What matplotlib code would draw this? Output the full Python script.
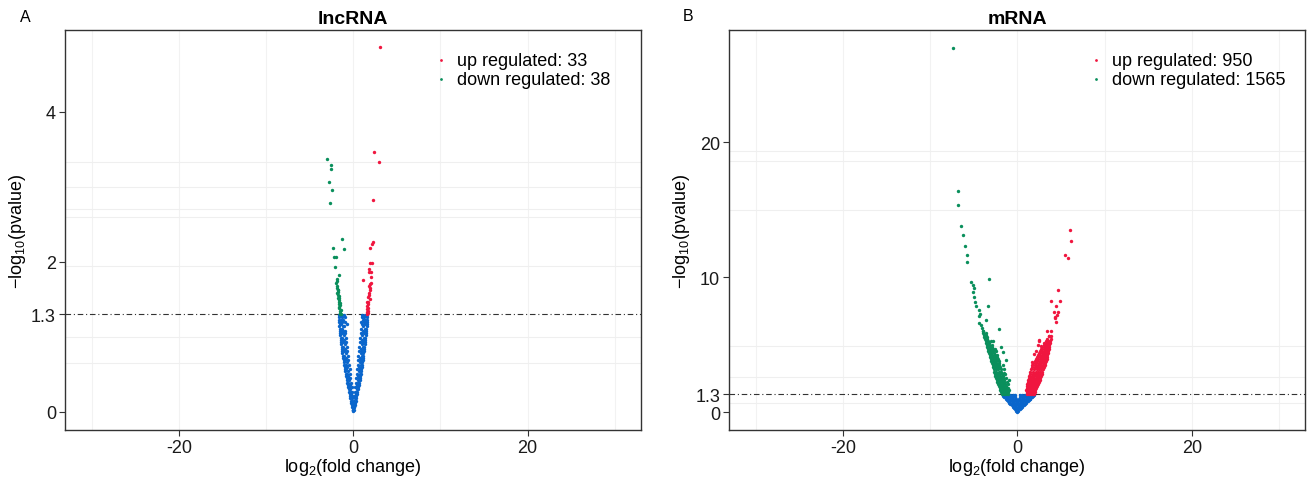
import matplotlib
matplotlib.use("Agg")
import matplotlib.pyplot as plt
import numpy as np

plt.rcParams['font.family'] = ['Liberation Sans', 'DejaVu Sans']
plt.rcParams['mathtext.fontset'] = 'custom'
plt.rcParams['mathtext.rm'] = 'Liberation Sans'

# ---------------- data ----------------
RED = '#F0163F'
GREEN = '#0A8F5C'
BLUE = '#0A66CC'

x_ticks = [-20, 0, 20]
lnc_yticks = [0, 1.3, 2, 4]
mrna_yticks = [0, 1.3, 10, 20]
x_grid = [-30, -20, -10, 0, 10, 20, 30]
lnc_grid_y = [0.65, 1.0, 1.95, 2.6, 2.7, 3.0, 3.33]
mrna_grid_y = [0.65, 2.6, 4.9, 15.0, 18.6, 19.3]
threshold = 1.3

lnc_up = [(3.09, 4.86), (2.37, 3.46), (2.90, 3.33), (2.26, 2.82), (2.26, 2.27),
          (2.14, 2.24), (1.95, 2.18), (1.91, 1.99), (2.14, 1.98), (1.83, 1.90),
          (2.03, 1.87), (1.83, 1.86), (1.11, 1.76), (2.06, 1.72), (1.87, 1.65),
          (1.95, 1.62), (1.83, 1.59), (1.68, 1.53), (1.87, 1.50), (1.57, 1.47),
          (1.68, 1.44), (1.64, 1.38), (1.68, 1.35), (1.60, 1.33), (1.56, 1.37),
          (1.75, 1.56), (1.62, 1.41), (1.78, 1.68), (2.0, 1.80), (1.72, 1.32),
          (1.58, 1.31), (1.66, 1.46), (1.90, 1.70)]

lnc_down = [(-2.98, 3.37), (-2.52, 3.29), (-2.52, 3.24), (-2.79, 3.07), (-2.49, 2.96),
            (-2.67, 2.79), (-1.34, 2.31), (-2.33, 2.18), (-1.11, 2.17), (-2.26, 2.07),
            (-1.98, 2.06), (-2.14, 1.93), (-1.68, 1.83), (-1.87, 1.77), (-1.95, 1.72),
            (-1.83, 1.68), (-1.87, 1.65), (-1.72, 1.62), (-1.87, 1.58), (-1.64, 1.55),
            (-1.79, 1.52), (-1.60, 1.49), (-1.68, 1.44), (-1.49, 1.42), (-1.60, 1.38),
            (-1.41, 1.36), (-1.56, 1.31), (-1.52, 1.34), (-1.75, 1.60), (-1.66, 1.47),
            (-1.90, 1.75), (-1.58, 1.40), (-1.48, 1.32), (-1.70, 1.56), (-1.62, 1.52),
            (-1.80, 1.62), (-1.44, 1.30), (-1.55, 1.45)]

lnc_ns_rows = {
    1.29: [-1.62, -1.45, -1.1, 1.6, 1.4, 1.05],
    1.26: [-1.66, -1.3, -0.98, 1.62, 1.25, 0.95],
    1.23: [-1.58, -1.4, -1.15, 1.55, 1.35, 1.1],
    1.20: [-1.63, -1.25, -0.95, 1.58, 1.2, 0.92],
    1.17: [-1.55, -1.38, -0.72, 1.52, 1.4, 1.0],
    1.14: [-1.6, -1.2, -1.02, 1.54, 1.15],
    1.11: [-1.52, -1.33, 1.48, 1.3, 0.9],
    1.08: [-1.56, -1.15, -0.92, 1.5, 1.1],
    1.05: [-1.48, -1.3, -0.9, 1.44, 1.25, 0.85],
    1.02: [-1.5, -1.1, 1.42, 1.05],
    0.99: [-1.44, -1.25, -0.85, 1.38, 1.2, 0.82],
    0.96: [-1.46, -1.05, 1.36, 1.0],
    0.93: [-1.38, -1.2, -0.8, 1.32, 1.15, 0.76],
    0.90: [-1.4, -0.98, 1.3, 0.95],
    0.87: [-1.32, -1.15, -0.75, 1.26, 1.1, 0.7],
    0.84: [-1.34, -0.92, 1.24, 0.9],
    0.81: [-1.26, -1.08, -0.68, 1.2, 1.04, 0.66],
    0.78: [-1.24, -0.88, 1.16, 0.85],
    0.75: [-1.18, -1.02, -0.62, 1.12, 0.98, 0.6],
    0.72: [-1.16, -0.82, 1.1, 0.8],
    0.69: [-1.1, -0.95, -0.56, 1.06, 0.92, 0.55],
    0.66: [-1.08, -0.76, 1.02, 0.74],
    0.63: [-1.02, -0.88, -0.48, 0.98, 0.86, 0.5],
    0.60: [-0.98, -0.7, 0.96, 0.68],
    0.57: [-0.94, -0.8, -0.42, 0.92, 0.8, 0.44],
    0.54: [-0.9, -0.62, 0.88, 0.62],
    0.51: [-0.85, -0.72, -0.38, 0.84, 0.72, 0.4],
    0.48: [-0.82, -0.56, 0.8, 0.56],
    0.45: [-0.76, -0.64, -0.32, 0.76, 0.64, 0.34],
    0.42: [-0.72, -0.5, 0.72, 0.5],
    0.39: [-0.68, -0.56, -0.26, 0.68, 0.56, 0.28],
    0.36: [-0.62, -0.42, 0.63, 0.44],
    0.33: [-0.58, -0.48, -0.2, 0.58, 0.48, 0.22],
    0.30: [-0.53, -0.36, 0.53, 0.38],
    0.27: [-0.48, -0.3, -0.16, 0.47, 0.32, 0.17],
    0.24: [-0.43, -0.28, 0.42, 0.27],
    0.21: [-0.38, -0.24, -0.1, 0.36, 0.22, 0.1],
    0.18: [-0.33, -0.2, 0.31, 0.18],
    0.15: [-0.28, -0.14, 0.26, 0.12],
    0.12: [-0.22, -0.1, 0.2, 0.09],
    0.09: [-0.16, -0.07, 0.15, 0.06],
    0.06: [-0.11, -0.04, 0.1, 0.04],
    0.03: [-0.05, -0.02, 0.05, 0.02],
    0.01: [0.0],
}

mrna_up_rows = {
    1.35: [1.05, 1.3, 1.55, 1.8, 1.95],
    1.5: [1.05, 1.3, 1.55, 1.82, 2.02],
    1.65: [1.02, 1.25, 1.5, 1.75, 2.05],
    1.8: [1.1, 1.35, 1.6, 1.85, 2.12],
    1.95: [1.08, 1.3, 1.55, 1.8, 2.05, 2.25],
    2.1: [1.15, 1.4, 1.65, 1.9, 2.15, 2.35],
    2.25: [1.2, 1.45, 1.7, 1.95, 2.2, 2.45],
    2.4: [1.25, 1.5, 1.78, 2.05, 2.3, 2.55],
    2.55: [1.3, 1.6, 1.85, 2.1, 2.4, 2.62],
    2.7: [1.38, 1.65, 1.92, 2.2, 2.48, 2.7],
    2.85: [1.45, 1.75, 2.0, 2.3, 2.55, 2.78],
    3.0: [1.5, 1.8, 2.1, 2.38, 2.62, 2.88],
    3.15: [1.58, 1.9, 2.2, 2.45, 2.72, 2.95],
    3.3: [1.65, 2.0, 2.3, 2.55, 2.8, 3.05],
    3.45: [1.7, 2.05, 2.35, 2.62, 2.9, 3.15],
    3.6: [1.85, 2.15, 2.45, 2.72, 3.0, 3.22],
    3.75: [2.0, 2.3, 2.55, 2.82, 3.1, 3.28],
    3.9: [2.1, 2.4, 2.68, 2.95, 3.2, 3.35],
    4.05: [2.25, 2.55, 2.8, 3.05, 3.3, 3.42],
    4.2: [2.35, 2.65, 2.9, 3.15, 3.4],
    4.35: [2.5, 2.78, 3.02, 3.25, 3.48],
    4.5: [2.55, 2.88, 3.12, 3.35, 3.52],
    4.65: [2.7, 3.0, 3.25, 3.45, 3.58],
    4.8: [2.85, 3.15, 3.38, 3.62],
    4.95: [3.0, 3.3, 3.5, 3.68],
    5.1: [3.1, 3.45, 3.72],
    5.25: [3.3, 3.55, 3.78],
    5.4: [3.45, 3.82],
    5.6: [3.6, 3.88],
}
mrna_up_extra = [(2.33, 4.96), (2.44, 5.36), (3.67, 5.65), (3.40, 6.02), (3.90, 6.02),
                 (4.39, 6.64), (4.28, 7.01), (4.35, 6.96), (4.50, 7.21), (4.20, 7.41),
                 (4.66, 7.41), (4.47, 7.83), (3.82, 8.20), (4.85, 8.22), (4.70, 9.06),
                 (5.47, 11.60), (5.81, 11.41), (6.04, 13.48), (6.11, 12.64),
                 (2.52, 5.28), (2.70, 4.90), (1.95, 4.30), (1.70, 3.70), (2.10, 4.55)]

mrna_down_rows = {
    1.35: [-1.78, -1.55, -1.3, -1.05],
    1.5: [-1.85, -1.6, -1.35, -1.1],
    1.65: [-1.95, -1.7, -1.45, -1.2, -1.0],
    1.8: [-2.02, -1.78, -1.5, -1.25, -1.05],
    1.95: [-2.1, -1.85, -1.6, -1.3],
    2.1: [-2.2, -1.95, -1.7, -1.42, -1.1],
    2.25: [-2.28, -2.0, -1.75, -1.5, -1.2],
    2.4: [-2.38, -2.1, -1.85, -1.55, -1.0],
    2.55: [-2.45, -2.2, -1.92, -1.65, -1.3],
    2.7: [-2.52, -2.25, -2.0, -1.7],
    2.85: [-2.6, -2.35, -2.05, -1.8, -1.45],
    3.0: [-2.65, -2.4, -2.15, -1.85],
    3.15: [-2.72, -2.48, -2.2, -1.9, -1.55],
    3.3: [-2.8, -2.55, -2.25, -2.0],
    3.45: [-2.85, -2.6, -2.35, -2.05, -1.7],
    3.6: [-2.92, -2.68, -2.4, -2.1],
    3.75: [-3.0, -2.72, -2.45, -2.15],
    3.9: [-3.05, -2.8, -2.5, -2.25],
    4.05: [-3.12, -2.85, -2.55, -2.3],
    4.2: [-3.18, -2.92, -2.62, -2.35],
    4.35: [-3.25, -2.98, -2.7],
    4.5: [-3.32, -3.05, -2.75, -2.4],
    4.65: [-3.38, -3.1, -2.82],
    4.8: [-3.45, -3.18, -2.9],
    4.95: [-3.5, -3.22, -2.95],
    5.1: [-3.58, -3.3],
    5.25: [-3.65, -3.38, -3.05],
    5.4: [-3.72, -3.45],
    5.55: [-3.8, -3.5],
    5.7: [-3.86, -3.58],
    5.85: [-3.92, -3.65],
    6.0: [-3.98],
    6.2: [-4.05],
}
mrna_down_extra = [(-1.30, 3.85), (-1.68, 4.42), (-1.87, 4.79), (-2.60, 4.70), (-2.79, 5.28),
                   (-2.14, 6.15), (-3.59, 6.81), (-3.32, 7.85), (-3.25, 9.85), (-1.50, 2.90),
                   (-4.16, 6.47), (-4.43, 6.60), (-3.98, 6.02), (-4.43, 7.09), (-4.24, 7.26),
                   (-4.36, 7.56), (-4.73, 7.83), (-4.81, 8.12), (-4.93, 8.50), (-5.08, 8.87),
                   (-5.00, 9.16), (-5.04, 9.41), (-5.31, 9.65), (-5.73, 11.13), (-5.81, 11.65),
                   (-6.04, 12.32), (-6.23, 13.11), (-6.50, 13.78), (-6.76, 15.36),
                   (-6.84, 16.35), (-7.34, 27.00)]

mrna_ns_rows = {
    1.25: [-1.68, -1.4, -1.1, -0.8, -0.5, -0.25, 0.3, 0.55, 0.85, 1.15, 1.45, 1.75, 1.87],
    1.18: [-1.6, -1.3, -1.0, -0.7, -0.4, 0.45, 0.75, 1.05, 1.35, 1.65, 1.8],
    1.1: [-1.48, -1.2, -0.9, -0.6, -0.3, 0.35, 0.65, 0.95, 1.25, 1.55, 1.65],
    1.0: [-1.35, -1.05, -0.75, -0.45, -0.2, 0.2, 0.5, 0.8, 1.1, 1.4, 1.5],
    0.9: [-1.2, -0.9, -0.6, -0.3, -0.05, 0.1, 0.4, 0.7, 1.0, 1.3],
    0.8: [-1.08, -0.8, -0.5, -0.2, 0.1, 0.4, 0.7, 1.0, 1.18],
    0.7: [-0.94, -0.65, -0.35, -0.05, 0.25, 0.55, 0.85, 1.03],
    0.6: [-0.8, -0.5, -0.2, 0.1, 0.4, 0.7, 0.88],
    0.5: [-0.67, -0.38, -0.1, 0.2, 0.5, 0.73],
    0.4: [-0.53, -0.25, 0.05, 0.3, 0.58],
    0.3: [-0.4, -0.12, 0.15, 0.43],
    0.2: [-0.26, 0.0, 0.27],
    0.1: [-0.12, 0.12],
    0.03: [0.0],
}

lnc_counts = (33, 38)
mrna_counts = (950, 1565)


def rows_to_xy(rows, extra=()):
    xs, ys = [], []
    for yv, xl in rows.items():
        for xv in xl:
            xs.append(xv)
            ys.append(yv)
    for xv, yv in extra:
        xs.append(xv)
        ys.append(yv)
    return np.array(xs), np.array(ys)


def pairs(p):
    a = np.array(p)
    return a[:, 0], a[:, 1]


# ---------------- figure ----------------
fig = plt.figure(figsize=(13.07, 4.81), dpi=100)
ax1 = fig.add_axes([0.0497, 0.1040, 0.4407, 0.8316])
ax2 = fig.add_axes([0.5578, 0.1040, 0.4407, 0.8316])

S = 6


def style(ax, title, yticks, ylim, grid_y, legend_x, counts):
    ax.set_xlim(-33.07, 33.0)
    ax.set_ylim(*ylim)
    for gx in x_grid:
        ax.axvline(gx, color='#F2F2F2', lw=0.8, zorder=0)
    for gy in grid_y:
        ax.axhline(gy, color='#EFEFEF', lw=0.8, zorder=0)
    ax.axhline(threshold, color='#333333', lw=0.8, ls=(0, (5, 2.5, 1, 2.5)), zorder=1)
    ax.set_xticks(x_ticks)
    ax.set_xticklabels([str(v) for v in x_ticks])
    ax.set_yticks(yticks)
    ax.set_yticklabels([('%g' % v) for v in yticks])
    ax.tick_params(direction='out', length=4, width=0.8, colors='#333333',
                   labelcolor='#1a1a1a', labelsize=13, pad=2.5)
    for sp in ax.spines.values():
        sp.set_color('#333333')
        sp.set_linewidth(1.0)
    ax.set_title(title, fontsize=14, fontweight='bold', pad=5)
    ax.set_xlabel(r'$\mathregular{log_2}$(fold change)', fontsize=13)
    ax.set_ylabel(r'$\mathregular{-log_{10}}$(pvalue)', fontsize=13)
    ax.xaxis.set_label_coords(0.5, -0.064)
    ax.yaxis.set_label_coords(-0.064, 0.5)
    hu = ax.scatter([], [], s=4, color=RED, linewidths=0)
    hd = ax.scatter([], [], s=4, color=GREEN, linewidths=0)
    ax.legend([hu, hd], ['up regulated: %d' % counts[0], 'down regulated: %d' % counts[1]],
              loc='upper left', bbox_to_anchor=(legend_x, 0.945), frameon=False,
              fontsize=13, handlelength=1.0, handletextpad=0.35, borderpad=0,
              borderaxespad=0, labelspacing=0.12, scatterpoints=1)


# lncRNA
bx, by = rows_to_xy(lnc_ns_rows)
ux, uy = pairs(lnc_up)
dx, dy = pairs(lnc_down)
ax1.scatter(bx, by, s=S, color=BLUE, linewidths=0, zorder=2)
ax1.scatter(ux, uy, s=S, color=RED, linewidths=0, zorder=2)
ax1.scatter(dx, dy, s=S, color=GREEN, linewidths=0, zorder=2)
style(ax1, 'lncRNA', lnc_yticks, (-0.24, 5.09), lnc_grid_y, 0.638, lnc_counts)

# mRNA
bx, by = rows_to_xy(mrna_ns_rows)
ux, uy = rows_to_xy(mrna_up_rows, mrna_up_extra)
dx, dy = rows_to_xy(mrna_down_rows, mrna_down_extra)
ax2.scatter(bx, by, s=S, color=BLUE, linewidths=0, zorder=2)
ax2.scatter(ux, uy, s=S, color=RED, linewidths=0, zorder=2)
ax2.scatter(dx, dy, s=S, color=GREEN, linewidths=0, zorder=2)
style(ax2, 'mRNA', mrna_yticks, (-1.33, 28.3), mrna_grid_y, 0.622, mrna_counts)

fig.text(0.019, 0.9626, 'A', fontsize=11.5, ha='center', va='center')
fig.text(0.5264, 0.9647, 'B', fontsize=11.5, ha='center', va='center')

fig.savefig('out.png', dpi=100)
